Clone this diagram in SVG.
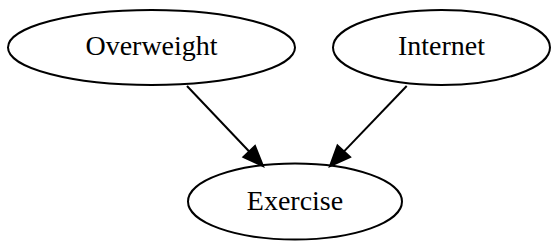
<svg xmlns="http://www.w3.org/2000/svg" width="558" height="250" viewBox="0 0 558 250">
<style>
.n ellipse{fill:none;stroke:#000;stroke-width:2}
.n text{font-family:"Liberation Serif","Times New Roman",serif;font-size:28px;text-anchor:middle;fill:#000}
.e line{stroke:#000;stroke-width:2}
.e polygon{fill:#000;stroke:#000;stroke-width:2}
</style>
<rect width="558" height="250" fill="#fff"/>
<g id="edges" class="e">
<line x1="187" y1="86" x2="249.2" y2="151.5"/>
<polygon points="243.5,157 263,166 255,146"/>
<line x1="406.7" y1="86" x2="343.8" y2="151.6"/>
<polygon points="350,157 330,166 337.5,145.6"/>
</g>
<g id="overweight" class="n">
<ellipse cx="151.5" cy="47.5" rx="143.5" ry="37.5"/>
<text x="151.5" y="55">Overweight</text>
</g>
<g id="internet" class="n">
<ellipse cx="441.5" cy="47.5" rx="108.5" ry="37.5"/>
<text x="441.5" y="55">Internet</text>
</g>
<g id="exercise" class="n">
<ellipse cx="295" cy="201.5" rx="107" ry="38"/>
<text x="295" y="210">Exercise</text>
</g>
</svg>
